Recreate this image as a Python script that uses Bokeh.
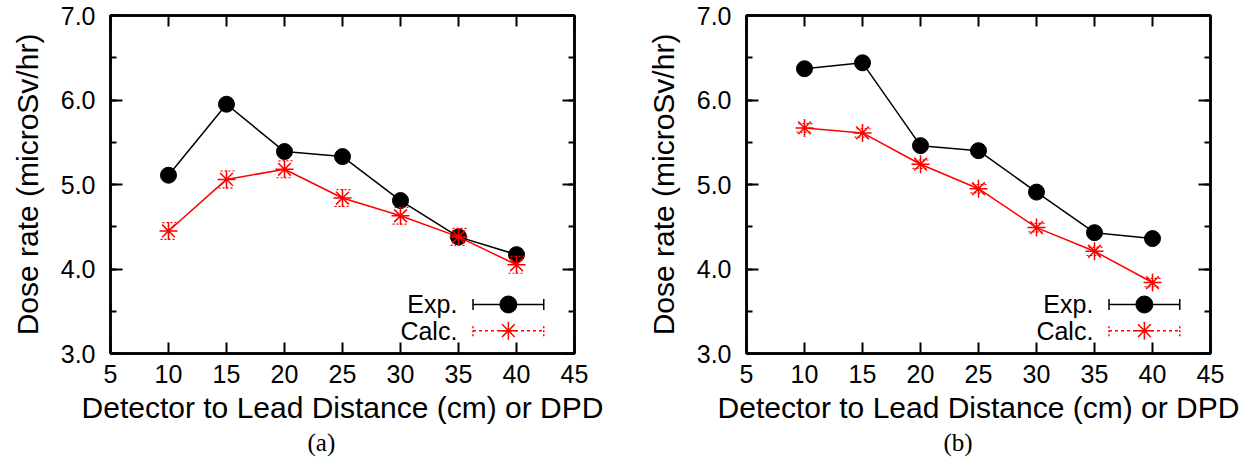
from bokeh.plotting import figure
from bokeh.layouts import row
from bokeh.models import (LinearAxis, SingleIntervalTicker, PrintfTickFormatter, Range1d,
                          Title, Label, Whisker, ColumnDataSource, TeeHead)
from bokeh.embed import file_html
from bokeh.resources import INLINE

# ---- data ----
distance = [10, 15, 20, 25, 30, 35, 40]
exp_a = [5.11, 5.95, 5.39, 5.33, 4.81, 4.38, 4.17]
calc_a = [4.45, 5.06, 5.18, 4.84, 4.63, 4.38, 4.05]
calc_err_a = [0.10, 0.10, 0.10, 0.10, 0.10, 0.10, 0.10]
exp_b = [6.37, 6.44, 5.46, 5.40, 4.91, 4.43, 4.36]
calc_b = [5.67, 5.61, 5.24, 4.95, 4.49, 4.21, 3.84]
calc_err_b = [0.05, 0.05, 0.05, 0.05, 0.05, 0.05, 0.05]
series_names = ["Exp.", "Calc."]
captions = ["(a)", "(b)"]
x_label = "Detector to Lead Distance (cm) or DPD"
y_label = "Dose rate (microSv/hr)"

SANS = "Liberation Sans"
SERIF = "Liberation Serif"
RED = "#ff0000"


def style_axis(ax, major_len, minor_len, show_labels):
    ax.major_tick_in = major_len
    ax.major_tick_out = 0
    ax.minor_tick_in = minor_len
    ax.minor_tick_out = 0
    ax.major_tick_line_width = 2
    ax.minor_tick_line_width = 2
    ax.major_tick_line_color = "black"
    ax.minor_tick_line_color = "black"
    ax.axis_line_color = "black"
    ax.axis_line_width = 2.5
    ax.major_label_text_font = SANS
    ax.major_label_text_font_size = "25px"
    ax.major_label_text_color = "black"
    ax.axis_label_text_color = "black"
    if not show_labels:
        ax.major_label_text_color = None
        ax.major_label_text_font_size = "1px"
        ax.major_label_standoff = 0


def make_panel(exp, calc, calc_err, caption, width, border_right):
    p = figure(width=width, height=461, title=None,
               x_range=Range1d(5, 45), y_range=Range1d(3, 7),
               output_backend="svg", toolbar_location=None,
               min_border_left=110, min_border_right=border_right,
               min_border_top=15, min_border_bottom=108)
    p.xgrid.visible = False
    p.ygrid.visible = False
    p.outline_line_color = "black"
    p.outline_line_width = 2.5
    p.background_fill_color = "white"
    p.border_fill_color = "white"

    # bottom / left axes
    xa = p.xaxis[0]
    xa.ticker = SingleIntervalTicker(interval=5, num_minor_ticks=0)
    style_axis(xa, 11, 0, True)
    xa.major_label_standoff = 11
    xa.axis_label = x_label
    xa.axis_label_text_font = SANS
    xa.axis_label_text_font_size = "30px"
    xa.axis_label_text_font_style = "normal"
    xa.axis_label_standoff = 5

    ya = p.yaxis[0]
    ya.ticker = SingleIntervalTicker(interval=1, num_minor_ticks=2)
    ya.formatter = PrintfTickFormatter(format="%.1f")
    style_axis(ya, 12, 6, True)
    ya.major_label_standoff = 15
    ya.axis_label = y_label
    ya.axis_label_text_font = SANS
    ya.axis_label_text_font_size = "30px"
    ya.axis_label_text_font_style = "normal"
    ya.axis_label_standoff = 14

    # mirrored ticks (top / right)
    top = LinearAxis(ticker=SingleIntervalTicker(interval=5, num_minor_ticks=0))
    style_axis(top, 11, 0, False)
    p.add_layout(top, "above")
    right = LinearAxis(ticker=SingleIntervalTicker(interval=1, num_minor_ticks=2))
    style_axis(right, 12, 6, False)
    p.add_layout(right, "right")

    # experimental series
    p.line(distance, exp, line_color="black", line_width=1.5)
    p.scatter(distance, exp, marker="circle", size=16, fill_color="black", line_color="black")

    # calculated series with dashed error bars
    src = ColumnDataSource(dict(
        x=distance, y=calc,
        lower=[c - e for c, e in zip(calc, calc_err)],
        upper=[c + e for c, e in zip(calc, calc_err)]))
    p.line("x", "y", source=src, line_color=RED, line_width=1.5)
    wh = Whisker(base="x", lower="lower", upper="upper", source=src,
                 line_color=RED, line_width=1.2, line_dash="2 2",
                 upper_head=TeeHead(size=16, line_color=RED, line_width=1.2, line_dash="2 2"),
                 lower_head=TeeHead(size=16, line_color=RED, line_width=1.2, line_dash="2 2"),
                 level="glyph")
    p.add_layout(wh)
    p.scatter("x", "y", source=src, marker="asterisk", size=18, line_color=RED, line_width=1.5)

    # key (gnuplot style: label on the left, sample on the right)
    kx0, kx1, kxm = 36.25, 42.35, 39.3
    ky = [3.58, 3.27]
    cap = 0.065
    p.add_layout(Label(x=34.9, y=ky[0], text=series_names[0], text_align="right",
                       text_baseline="middle", text_font=SANS, text_font_size="25px",
                       text_color="black"))
    p.add_layout(Label(x=34.9, y=ky[1], text=series_names[1], text_align="right",
                       text_baseline="middle", text_font=SANS, text_font_size="25px",
                       text_color="black"))
    p.segment(x0=[kx0], y0=[ky[0]], x1=[kx1], y1=[ky[0]], line_color="black", line_width=1.5)
    p.segment(x0=[kx0, kx1], y0=[ky[0] - cap] * 2, x1=[kx0, kx1], y1=[ky[0] + cap] * 2,
              line_color="black", line_width=1.5)
    p.scatter([kxm], [ky[0]], marker="circle", size=17, fill_color="black", line_color="black")
    p.segment(x0=[kx0], y0=[ky[1]], x1=[kx1], y1=[ky[1]], line_color=RED, line_width=1.5,
              line_dash="3 3")
    p.segment(x0=[kx0, kx1], y0=[ky[1] - cap] * 2, x1=[kx0, kx1], y1=[ky[1] + cap] * 2,
              line_color=RED, line_width=1.5, line_dash="2 2")
    p.scatter([kxm], [ky[1]], marker="asterisk", size=18, line_color=RED, line_width=1.5)

    # caption under the panel
    t = Title(text=caption, align="left", offset=197, text_font=SERIF,
              text_font_size="25px", text_font_style="normal", text_color="black",
              standoff=0)
    p.add_layout(t, "below")
    return p


pa = make_panel(exp_a, calc_a, calc_err_a, captions[0], 636, 62)
pb = make_panel(exp_b, calc_b, calc_err_b, captions[1], 612, 38)
layout = row(pa, pb)

open("out.html", "w").write(file_html(layout, INLINE))
